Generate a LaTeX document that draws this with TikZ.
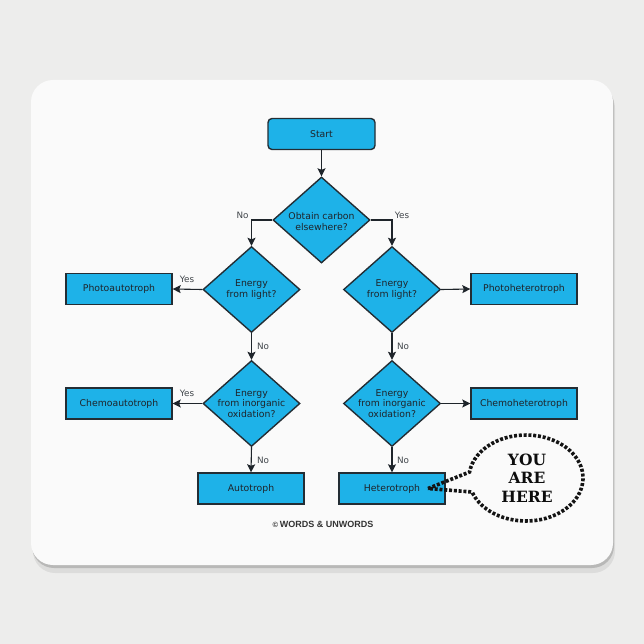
\documentclass[tikz,border=0pt]{standalone}
\usepackage{fontspec}
\setmainfont{DejaVu Sans}
\newfontfamily\slabfont{DejaVu Serif}
\newfontfamily\credfont{Liberation Sans}
\usetikzlibrary{shapes.geometric,arrows.meta,calc}
\definecolor{bgc}{RGB}{237,237,236}
\definecolor{padc}{RGB}{250,250,250}
\definecolor{cy}{RGB}{30,178,232}
\definecolor{edgec}{RGB}{35,45,52}
\definecolor{ink}{RGB}{30,36,42}
\tikzset{
 box/.style={draw=edgec, line width=1.4pt, fill=cy, minimum width=106pt, minimum height=31pt, inner sep=0pt, font=\fontsize{9.3}{10.5}\selectfont, text=ink},
 startbox/.style={box, rounded corners=4pt, minimum width=107pt},
 dia/.style={diamond, draw=edgec, line width=1.4pt, fill=cy, minimum width=97pt, minimum height=86pt, inner sep=0pt},
 dtext/.style={align=center, font=\fontsize{9.3}{10.5}\selectfont, text=ink, inner sep=0pt},
 arr/.style={draw=ink, line width=1.1pt, -{Stealth[length=8pt,width=8pt,inset=1.5pt]}},
 lbl/.style={font=\fontsize{8.8}{10}\selectfont, text=ink!85, inner sep=1pt},
 dotline/.style={draw=black!92, line width=3.6pt, dash pattern=on 3pt off 1.8pt},
}
\begin{document}
\begin{tikzpicture}[x=1pt,y=-1pt]
% background and mouse pad
\fill[bgc] (0,0) rectangle (644,644);
\useasboundingbox (0,0) rectangle (644,644);
\fill[black, opacity=0.07, rounded corners=22pt] (33,86) rectangle (615,573);
\fill[black, opacity=0.16, rounded corners=22pt] (32,83) rectangle (614,568);
\fill[padc, rounded corners=22pt] (31,80) rectangle (613,565);

% nodes
\node[startbox] (start) at (321.5,134) {Start};
\node[dia] (d1) at (321.5,220) {};
\node[dtext] (d1t) at (321.5,221.5) {Obtain carbon\\elsewhere?};

\node[dia] (dl1) at (251.5,289.5) {};
\node[dtext] (dl1t) at (dl1) {Energy\\from light?};
\node[dia] (dr1) at (392,289.5) {};
\node[dtext] (dr1t) at (dr1) {Energy\\from light?};

\node[box] (photoa) at (119,289) {Photoautotroph};
\node[box] (photoh) at (524,289) {Photoheterotroph};

\node[dia] (dl2) at (251.5,403.5) {};
\node[dtext] (dl2t) at (dl2) {Energy\\from inorganic\\oxidation?};
\node[dia] (dr2) at (392,403.5) {};
\node[dtext] (dr2t) at (dr2) {Energy\\from inorganic\\oxidation?};

\node[box] (chemoa) at (119,403.5) {Chemoautotroph};
\node[box] (chemoh) at (524,403.5) {Chemoheterotroph};

\node[box] (auto) at (251,488.5) {Autotroph};
\node[box] (hetero) at (392,488.5) {Heterotroph};

% connectors
\draw[arr] (start) -- (d1);
\draw[arr] (d1.west) -| (dl1.north);
\draw[arr] (d1.east) -| (dr1.north);
\draw[arr] (dl1.west) -- (photoa.east);
\draw[arr] (dr1.east) -- (photoh.west);
\draw[arr] (dl1.south) -- (dl2.north);
\draw[arr] (dr1.south) -- (dr2.north);
\draw[arr] (dl2.west) -- (chemoa.east);
\draw[arr] (dr2.east) -- (chemoh.west);
\draw[arr] (dl2.south) -- (auto.north);
\draw[arr] (dr2.south) -- (hetero.north);

% labels
\node[lbl] (n1) at (242.5,215.5) {No};
\node[lbl] (y1) at (402,215.5) {Yes};
\node[lbl] (y2) at (187,279.5) {Yes};
\node[lbl] (n2) at (263,346.5) {No};
\node[lbl] (n3) at (403,346.5) {No};
\node[lbl] (y3) at (187,393.5) {Yes};
\node[lbl] (n4) at (263,460.5) {No};
\node[lbl] (n5) at (403,460.5) {No};

% credit
\node[font=\credfont\bfseries\fontsize{9}{10}\selectfont, text=black!80] (cred) at (323,524) {{\fontsize{7.5}{8}\selectfont\textcopyright}\,WORDS \& UNWORDS};

% you are here bubble
\node[font=\slabfont\bfseries\fontsize{15.5}{18.5}\selectfont, align=center, text=black!95] (yah) at (527,478) {YOU\\ARE\\HERE};
\coordinate (bc) at (526,478);
\coordinate (tip) at (428,488.5);
\coordinate (ua) at ($(bc)+(172:57pt and 43pt)$);
\draw[dotline] (tip) -- (ua) arc[start angle=172, end angle=-161, x radius=57pt, y radius=43pt] -- (tip);
\end{tikzpicture}
\end{document}
